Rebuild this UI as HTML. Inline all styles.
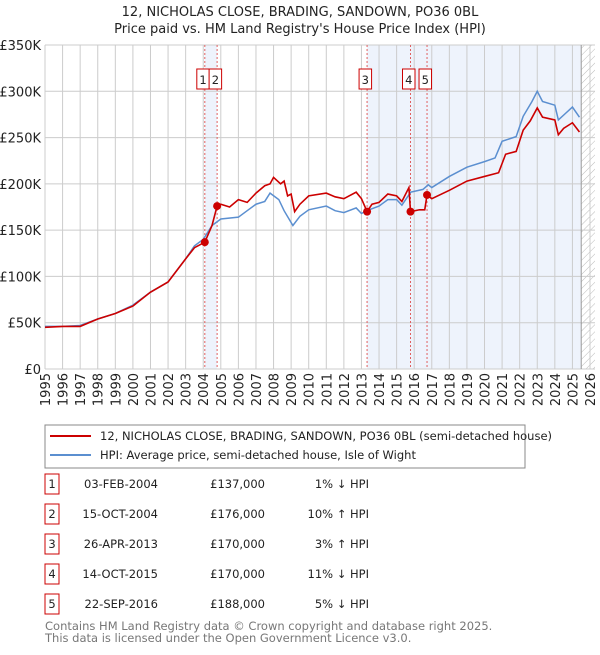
<!DOCTYPE html>
<html><head><meta charset="utf-8"><style>
body{margin:0;width:600px;height:650px;background:#fff;font-family:"Liberation Sans","DejaVu Sans",sans-serif;overflow:hidden}
svg text{font-family:"DejaVu Sans","Liberation Sans",sans-serif}
</style></head><body>
<svg id="c" width="600" height="650">
<defs><pattern id="hatch" width="5" height="5" patternUnits="userSpaceOnUse" patternTransform="rotate(45)"><line x1="0" y1="0" x2="0" y2="5" stroke="#bbb" stroke-width="1"/></pattern></defs>
<text x="300" y="16" text-anchor="middle" font-size="13" fill="#222">12, NICHOLAS CLOSE, BRADING, SANDOWN, PO36 0BL</text>
<text x="300" y="33" text-anchor="middle" font-size="13" fill="#222">Price paid vs. HM Land Registry's House Price Index (HPI)</text>
<g id="plot"></g>
<rect x="45" y="425" width="480" height="43" fill="#fff" stroke="#888"/>
<line x1="50" y1="436" x2="91" y2="436" stroke="#cc0000" stroke-width="2"/>
<text x="100" y="440" font-size="11.5" fill="#222">12, NICHOLAS CLOSE, BRADING, SANDOWN, PO36 0BL (semi-detached house)</text>
<line x1="50" y1="455" x2="91" y2="455" stroke="#5b8fd0" stroke-width="2"/>
<text x="100" y="459" font-size="11.5" fill="#222">HPI: Average price, semi-detached house, Isle of Wight</text>
<g id="table"></g>
<text x="45" y="630" font-size="11.5" fill="#777">Contains HM Land Registry data © Crown copyright and database right 2025.</text>
<text x="45" y="642" font-size="11.5" fill="#777">This data is licensed under the Open Government Licence v3.0.</text>
</svg>
<script>
const hpiYears=[1995,1996,1997,1998,1999,2000,2001,2002,2003,2003.5,2004,2004.5,2005,2006,2006.5,2007,2007.5,2007.8,2008.3,2008.6,2009.1,2009.5,2010,2011,2011.5,2012,2012.7,2013,2013.3,2014,2014.5,2015,2015.3,2015.8,2016.5,2016.8,2017,2018,2019,2020,2020.6,2021,2021.8,2022.2,2022.7,2023,2023.3,2024,2024.2,2024.6,2025,2025.4];
const hpiValues=[46,46,47,54,60,69,83,94,119,133,140,155,162,164,171,178,181,190,183,171,155,165,172,176,171,169,174,168,171,176,183,183,177,191,194,199,196,208,218,224,228,246,251,273,289,300,289,285,269,276,283,272];
const priceYears=[1995,1996,1997,1998,1999,2000,2001,2002,2003,2003.5,2004.09,2004.5,2004.79,2005,2005.5,2006,2006.5,2007,2007.5,2007.8,2008,2008.4,2008.6,2008.8,2009,2009.2,2009.5,2010,2011,2011.5,2012,2012.7,2013,2013.32,2013.6,2014,2014.5,2015,2015.3,2015.7,2015.79,2016.3,2016.6,2016.73,2017,2018,2019,2020,2020.8,2021.2,2021.8,2022.2,2022.6,2023,2023.3,2024,2024.2,2024.5,2025,2025.4];
const priceValues=[45,46,46,54,60,68,83,94,119,131,137,155,176,178,175,183,180,190,198,200,207,200,203,187,189,170,178,187,190,186,184,191,184,170,178,180,189,187,181,196,170,172,172,188,184,193,203,208,212,232,235,258,268,282,272,269,253,260,266,256];
const saleLabels=["1","2","3","4","5"];
const saleYears=[2004.09,2004.79,2013.32,2015.79,2016.73];
const saleValues=[137,176,170,170,188];
const saleDates=["03-FEB-2004","15-OCT-2004","26-APR-2013","14-OCT-2015","22-SEP-2016"];
const salePrices=["£137,000","£176,000","£170,000","£170,000","£188,000"];
const saleHpi=["1% ↓ HPI","10% ↑ HPI","3% ↑ HPI","11% ↓ HPI","5% ↓ HPI"];
const yTicks=[0,50,100,150,200,250,300,350];
const yTickLabels=["£0","£50K","£100K","£150K","£200K","£250K","£300K","£350K"];
const xTicks=[];for(let y=1995;y<=2026;y++)xTicks.push(y);

const X0=45,X1=590,Y0=369,Y1=45;
const xs=y=>X0+(y-1995)*(X1-X0)/31;
const ys=v=>Y0-v*(Y0-Y1)/350;
const NS="http://www.w3.org/2000/svg";
const plot=document.getElementById('plot');
function mk(tag,attrs,parent){const e=document.createElementNS(NS,tag);for(const k in attrs)e.setAttribute(k,attrs[k]);(parent||plot).appendChild(e);return e;}
let e;
e=mk('rect',{x:xs(saleYears[0]),y:Y1,width:xs(saleYears[1])-xs(saleYears[0]),height:Y0-Y1,fill:'#eef3fc'});


e=mk('rect',{x:xs(saleYears[2]),y:Y1,width:xs(2025.5)-xs(saleYears[2]),height:Y0-Y1,fill:'#eef3fc'});


e=mk('rect',{x:xs(2025.5),y:Y1,width:X1+5-xs(2025.5),height:Y0-Y1,fill:'url(#hatch)'});


xTicks.forEach(t=>{
  e=mk('line',{x1:xs(t),x2:xs(t),y1:Y1,y2:Y0,stroke:'#ccc','stroke-width':1});
  
  
  e=mk('text',{x:0,y:0,'font-size':13,fill:'#222','text-anchor':'end',transform:`translate(${xs(t)+5},${Y0+4}) rotate(-90)`});
  e.textContent=t;
  
  
});
yTicks.forEach((t,i)=>{
  e=mk('line',{x1:X0,x2:X1+5,y1:ys(t),y2:ys(t),stroke:'#ccc','stroke-width':1});
  
  
  e=mk('text',{x:X0-4,y:ys(t)+5,'font-size':13,fill:'#222','text-anchor':'end'});
  e.textContent=yTickLabels[i];
  
  
});
e=mk('line',{x1:xs(2025.5),x2:xs(2025.5),y1:Y1,y2:Y0,stroke:'#999','stroke-width':1});


saleYears.forEach((y,i)=>{
  e=mk('line',{x1:xs(y),x2:xs(y),y1:Y1,y2:Y0,stroke:'#e06060','stroke-width':1,'stroke-dasharray':'2,2'});
  
  
});
e=mk('polyline',{points:hpiYears.map((y,i)=>xs(y)+','+ys(hpiValues[i])).join(' '),fill:'none',stroke:'#5b8fd0','stroke-width':1.5});


e=mk('polyline',{points:priceYears.map((y,i)=>xs(y)+','+ys(priceValues[i])).join(' '),fill:'none',stroke:'#cc0000','stroke-width':1.6});


saleYears.forEach((y,i)=>{
  e=mk('circle',{cx:xs(y),cy:ys(saleValues[i]),r:4,fill:'#cc0000'});
  
  
  const bx=xs(y)-8;
  e=mk('rect',{x:bx,y:69,width:12.5,height:20,fill:'#fff',stroke:'#cc0000'});
  
  
  e=mk('text',{x:bx+6.25,y:84,'font-size':11.5,'text-anchor':'middle',fill:'#222'});
  e.textContent=saleLabels[i];
  
  
});
const tbl=document.getElementById('table');
saleLabels.forEach((l,i)=>{
  const cy=484+i*30;
  e=mk('rect',{x:45,y:cy-10,width:14,height:20,fill:'#fff',stroke:'#cc0000'},tbl);
  
  
  e=mk('text',{x:52,y:cy+4,'font-size':11.5,'text-anchor':'middle',fill:'#222'},tbl);e.textContent=l;
  
  
  e=mk('text',{x:158,y:cy+4,'font-size':11.5,'text-anchor':'end',fill:'#222'},tbl);e.textContent=saleDates[i];
  
  
  e=mk('text',{x:265,y:cy+4,'font-size':11.5,'text-anchor':'end',fill:'#222'},tbl);e.textContent=salePrices[i];
  
  
  e=mk('text',{x:369,y:cy+4,'font-size':11.5,'text-anchor':'end',fill:'#222'},tbl);e.textContent=saleHpi[i];
  
  
});
</script>
</body></html>
